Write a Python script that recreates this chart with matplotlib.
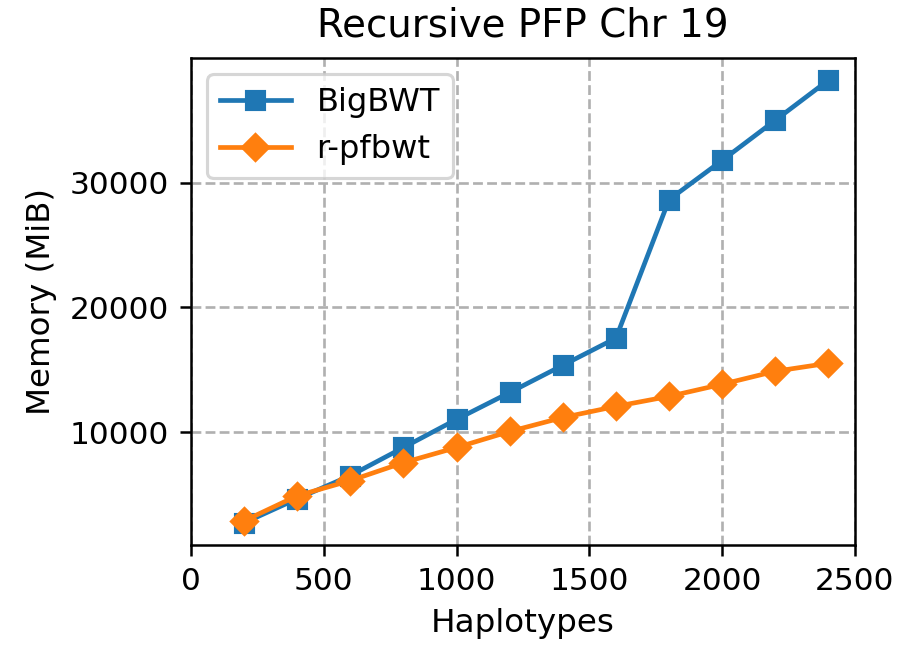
import matplotlib
matplotlib.use("Agg")
import matplotlib.pyplot as plt

haplotypes = [200, 400, 600, 800, 1000, 1200, 1400, 1600, 1800, 2000, 2200, 2400]
bigbwt = [2770, 4700, 6550, 8800, 11050, 13200, 15380, 17550, 28630, 31770, 34980, 38190]
rpfbwt = [2930, 4940, 6150, 7590, 8800, 10080, 11200, 12090, 12890, 13860, 14900, 15540]

dpi = 225
fig = plt.figure(figsize=(902 / dpi, 647 / dpi), dpi=dpi)
ax = fig.add_axes([191 / 902, 1 - 545 / 647, (855 - 191) / 902, (545 - 58) / 647])

ax.plot(haplotypes, bigbwt, marker='s', color='#1f77b4', label='BigBWT')
ax.plot(haplotypes, rpfbwt, marker='D', color='#ff7f0e', label='r-pfbwt')

ax.set_xlim(0, 2500)
ax.set_xticks([0, 500, 1000, 1500, 2000, 2500])
ax.set_yticks([10000, 20000, 30000])
ax.grid(True, linestyle='--', color='#b0b0b0', linewidth=0.85)
ax.set_axisbelow(True)
ax.set_xlabel('Haplotypes', fontsize=10.4)
ax.set_ylabel('Memory (MiB)', fontsize=10.4)
ax.set_title('Recursive PFP Chr 19', fontsize=12.4, pad=7)
ax.tick_params(labelsize=10)
ax.legend(loc='upper left', fontsize=10.3, handlelength=2.2)

fig.savefig('out.png', dpi=dpi)
